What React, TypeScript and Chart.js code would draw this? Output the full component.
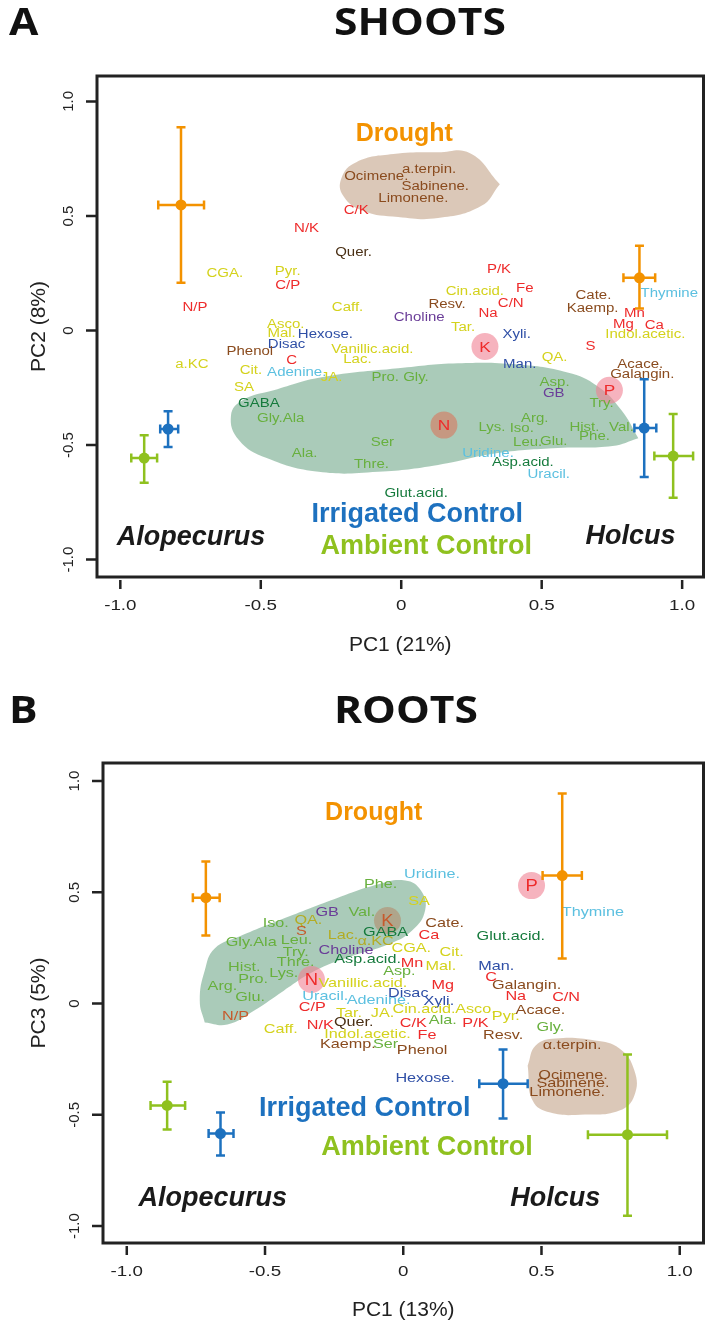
import React, { useEffect, useRef } from 'react';
import { Chart, registerables } from 'chart.js';

Chart.register(...registerables);

// ---------------- data ----------------
const AXIS_TICKS = [-1, -0.5, 0, 0.5, 1];
const AXIS_TICK_LABELS = ['-1.0', '-0.5', '0', '0.5', '1.0'];

type Lbl = [string, number, number, string];
type Ctr = [string, number, number, number, number, number, number];
type Pt = [number, number];

// [name, PC1, PC2, colour group]
const SHOOTS_METABOLITES: Lbl[] = [
  ['a.terpin.', 0.099, 0.704, 'brown'],
  ['Ocimene.', -0.089, 0.67, 'brown'],
  ['Sabinene.', 0.121, 0.63, 'brown'],
  ['Limonene.', 0.043, 0.574, 'brown'],
  ['C/K', -0.16, 0.522, 'red'],
  ['N/K', -0.337, 0.443, 'red'],
  ['Quer.', -0.17, 0.339, 'dark'],
  ['CGA.', -0.628, 0.248, 'yellow'],
  ['Pyr.', -0.404, 0.257, 'yellow'],
  ['C/P', -0.404, 0.196, 'red'],
  ['N/P', -0.734, 0.1, 'red'],
  ['Caff.', -0.191, 0.1, 'yellow'],
  ['P/K', 0.348, 0.265, 'red'],
  ['Fe', 0.44, 0.183, 'red'],
  ['Cin.acid.', 0.262, 0.17, 'yellow'],
  ['C/N', 0.39, 0.117, 'red'],
  ['Resv.', 0.163, 0.113, 'brown'],
  ['Na', 0.309, 0.074, 'red'],
  ['Choline', 0.064, 0.057, 'purple'],
  ['Tar.', 0.22, 0.013, 'yellow'],
  ['Cate.', 0.684, 0.152, 'brown'],
  ['Kaemp.', 0.681, 0.096, 'brown'],
  ['Thymine', 0.954, 0.161, 'cyan'],
  ['Mn', 0.83, 0.074, 'red'],
  ['Mg', 0.791, 0.026, 'red'],
  ['Ca', 0.901, 0.022, 'red'],
  ['Indol.acetic.', 0.869, -0.017, 'yellow'],
  ['Xyli.', 0.411, -0.017, 'blue'],
  ['Asco.', -0.411, 0.026, 'yellow'],
  ['Mal.', -0.426, -0.013, 'yellow'],
  ['Hexose.', -0.27, -0.017, 'blue'],
  ['Disac', -0.408, -0.061, 'blue'],
  ['Phenol', -0.539, -0.091, 'brown'],
  ['C', -0.39, -0.13, 'red'],
  ['Vanillic.acid.', -0.103, -0.083, 'yellow'],
  ['Lac.', -0.156, -0.126, 'yellow'],
  ['a.KC', -0.745, -0.148, 'yellow'],
  ['Cit.', -0.535, -0.174, 'yellow'],
  ['Adenine.', -0.372, -0.183, 'cyan'],
  ['JA.', -0.248, -0.204, 'yellow'],
  ['Pro. Gly.', -0.004, -0.204, 'green'],
  ['SA', -0.56, -0.248, 'yellow'],
  ['GABA', -0.507, -0.317, 'darkgreen'],
  ['Gly.Ala', -0.429, -0.383, 'green'],
  ['Lys.', 0.323, -0.422, 'green'],
  ['S', 0.674, -0.07, 'red'],
  ['Man.', 0.422, -0.148, 'blue'],
  ['QA.', 0.546, -0.117, 'yellow'],
  ['Acace.', 0.851, -0.148, 'brown'],
  ['Galangin.', 0.858, -0.191, 'brown'],
  ['Asp.', 0.546, -0.226, 'green'],
  ['GB', 0.543, -0.274, 'purple'],
  ['Try.', 0.713, -0.317, 'green'],
  ['Arg.', 0.475, -0.383, 'green'],
  ['Iso.', 0.429, -0.426, 'green'],
  ['Hist.', 0.652, -0.422, 'green'],
  ['Val.', 0.784, -0.422, 'green'],
  ['Leu.', 0.45, -0.487, 'green'],
  ['Glu.', 0.543, -0.483, 'green'],
  ['Phe.', 0.688, -0.465, 'green'],
  ['Uridine.', 0.309, -0.539, 'cyan'],
  ['Asp.acid.', 0.433, -0.578, 'darkgreen'],
  ['Uracil.', 0.525, -0.63, 'cyan'],
  ['Glut.acid.', 0.053, -0.713, 'darkgreen'],
  ['Ala.', -0.344, -0.535, 'green'],
  ['Ser', -0.067, -0.487, 'green'],
  ['Thre.', -0.106, -0.587, 'green'],
];

const SHOOTS_NUTRIENT_CIRCLES: Lbl[] = [
  ['K', 0.298, -0.07, 'pink'],
  ['N', 0.152, -0.413, 'brown'],
  ['P', 0.741, -0.261, 'pink'],
];

// [treatment, PC1, PC2, PC1 low, PC1 high, PC2 low, PC2 high]
const SHOOTS_CENTROIDS: Ctr[] = [
  ['drought', -0.784, 0.548, -0.865, -0.702, 0.209, 0.887],
  ['drought', 0.848, 0.23, 0.791, 0.904, 0.096, 0.37],
  ['irrigated', -0.83, -0.43, -0.858, -0.794, -0.509, -0.352],
  ['irrigated', 0.865, -0.426, 0.83, 0.908, -0.639, -0.213],
  ['ambient', -0.915, -0.557, -0.961, -0.869, -0.665, -0.457],
  ['ambient', 0.968, -0.548, 0.901, 1.039, -0.73, -0.365],
];

const SHOOTS_AMINO_AREA: Pt[] = [
  [0.844, -0.47], [0.752, -0.504], [0.557, -0.513], [0.344, -0.535], [0.131, -0.587],
  [-0.082, -0.617], [-0.294, -0.617], [-0.479, -0.557], [-0.578, -0.478], [-0.606, -0.37],
  [-0.564, -0.304], [-0.454, -0.261], [-0.284, -0.204], [-0.011, -0.165], [0.202, -0.143],
  [0.415, -0.148], [0.592, -0.183], [0.699, -0.243], [0.784, -0.348], [0.844, -0.47],
];

const SHOOTS_TERPENE_AREA: Pt[] = [
  [0.351, 0.639], [0.284, 0.543], [0.131, 0.491], [-0.011, 0.496], [-0.135, 0.522],
  [-0.206, 0.587], [-0.213, 0.665], [-0.16, 0.735], [-0.028, 0.77], [0.131, 0.778],
  [0.245, 0.774], [0.351, 0.639],
];

const SHOOTS_ANNOTATIONS: Lbl[] = [
  ['Drought', 0.011, 0.857, 'drought'],
  ['Irrigated Control', 0.057, -0.804, 'irrigated'],
  ['Ambient Control', 0.089, -0.943, 'ambient'],
  ['Alopecurus', -0.748, -0.904, 'species'],
  ['Holcus', 0.816, -0.9, 'species'],
];

// [name, PC1, PC3, colour group]
const ROOTS_METABOLITES: Lbl[] = [
  ['Uridine.', 0.104, 0.58, 'cyan'],
  ['Phe.', -0.082, 0.535, 'green'],
  ['SA', 0.057, 0.458, 'yellow'],
  ['GB', -0.275, 0.409, 'purple'],
  ['Val.', -0.15, 0.409, 'green'],
  ['Iso.', -0.461, 0.36, 'green'],
  ['QA.', -0.343, 0.373, 'olive'],
  ['S', -0.368, 0.324, 'rust'],
  ['Gly.Ala', -0.55, 0.274, 'green'],
  ['Leu.', -0.386, 0.283, 'green'],
  ['Lac.', -0.218, 0.306, 'olive'],
  ['GABA', -0.064, 0.319, 'darkgreen'],
  ['α.KC', -0.1, 0.279, 'olive'],
  ['Cate.', 0.15, 0.36, 'brown'],
  ['Ca', 0.093, 0.306, 'red'],
  ['Glut.acid.', 0.389, 0.301, 'darkgreen'],
  ['Try.', -0.389, 0.229, 'green'],
  ['Choline', -0.207, 0.238, 'purple'],
  ['CGA.', 0.029, 0.247, 'yellow'],
  ['Cit.', 0.175, 0.229, 'yellow'],
  ['Hist.', -0.575, 0.162, 'green'],
  ['Thre.', -0.389, 0.184, 'green'],
  ['Asp.acid.', -0.129, 0.198, 'darkgreen'],
  ['Mn', 0.032, 0.18, 'red'],
  ['Mal.', 0.136, 0.166, 'yellow'],
  ['Man.', 0.336, 0.166, 'blue'],
  ['Lys.', -0.432, 0.135, 'green'],
  ['Asp.', -0.014, 0.144, 'green'],
  ['Pro.', -0.543, 0.108, 'green'],
  ['Arg.', -0.654, 0.076, 'green'],
  ['Glu.', -0.554, 0.027, 'green'],
  ['Vanillic.acid.', -0.146, 0.09, 'yellow'],
  ['C', 0.318, 0.117, 'red'],
  ['Galangin.', 0.446, 0.081, 'brown'],
  ['Mg', 0.143, 0.081, 'red'],
  ['Disac', 0.018, 0.045, 'blue'],
  ['Na', 0.407, 0.031, 'red'],
  ['C/N', 0.589, 0.027, 'red'],
  ['Uracil.', -0.282, 0.031, 'cyan'],
  ['Adenine.', -0.089, 0.013, 'cyan'],
  ['Xyli.', 0.129, 0.009, 'blue'],
  ['C/P', -0.329, -0.018, 'red'],
  ['Tar.', -0.196, -0.045, 'yellow'],
  ['JA.', -0.075, -0.045, 'yellow'],
  ['Cin.acid.', 0.075, -0.027, 'yellow'],
  ['Asco.', 0.261, -0.027, 'yellow'],
  ['Acace.', 0.496, -0.031, 'brown'],
  ['Pyr.', 0.371, -0.058, 'yellow'],
  ['N/P', -0.607, -0.058, 'rust'],
  ['Caff.', -0.443, -0.117, 'yellow'],
  ['N/K', -0.3, -0.099, 'red'],
  ['Quer.', -0.179, -0.085, 'dark'],
  ['C/K', 0.036, -0.09, 'red'],
  ['Ala.', 0.143, -0.076, 'green'],
  ['P/K', 0.261, -0.09, 'red'],
  ['Gly.', 0.532, -0.108, 'green'],
  ['Indol.acetic.', -0.129, -0.139, 'yellow'],
  ['Fe', 0.086, -0.144, 'red'],
  ['Resv.', 0.361, -0.144, 'brown'],
  ['Kaemp.', -0.2, -0.184, 'brown'],
  ['Ser', -0.064, -0.184, 'green'],
  ['Phenol', 0.068, -0.211, 'brown'],
  ['α.terpin.', 0.611, -0.189, 'brown'],
  ['Ocimene.', 0.614, -0.324, 'brown'],
  ['Sabinene.', 0.614, -0.36, 'brown'],
  ['Limonene.', 0.593, -0.4, 'brown'],
  ['Hexose.', 0.079, -0.337, 'blue'],
  ['Thymine', 0.686, 0.409, 'cyan'],
];

const ROOTS_NUTRIENT_CIRCLES: Lbl[] = [
  ['K', -0.057, 0.373, 'tan'],
  ['N', -0.332, 0.108, 'pink'],
  ['P', 0.464, 0.53, 'pink'],
];

const ROOTS_CENTROIDS: Ctr[] = [
  ['drought', -0.714, 0.476, -0.761, -0.664, 0.306, 0.638],
  ['drought', 0.575, 0.575, 0.504, 0.646, 0.202, 0.944],
  ['irrigated', -0.661, -0.584, -0.704, -0.614, -0.683, -0.49],
  ['irrigated', 0.361, -0.36, 0.275, 0.45, -0.517, -0.207],
  ['ambient', -0.854, -0.458, -0.914, -0.789, -0.566, -0.351],
  ['ambient', 0.811, -0.589, 0.668, 0.954, -0.953, -0.229],
];

const ROOTS_AMINO_AREA: Pt[] = [
  [-0.718, -0.085], [-0.736, 0.013], [-0.718, 0.148], [-0.682, 0.247], [-0.593, 0.301],
  [-0.414, 0.391], [-0.236, 0.476], [-0.093, 0.535], [0.007, 0.553], [0.064, 0.508],
  [0.079, 0.418], [0.032, 0.328], [-0.046, 0.27], [-0.2, 0.207], [-0.318, 0.148],
  [-0.432, 0.058], [-0.539, -0.031], [-0.636, -0.094], [-0.718, -0.085],
];

const ROOTS_TERPENE_AREA: Pt[] = [
  [0.45, -0.279], [0.479, -0.189], [0.55, -0.157], [0.693, -0.166], [0.782, -0.202],
  [0.836, -0.301], [0.836, -0.413], [0.782, -0.481], [0.657, -0.499], [0.532, -0.49],
  [0.468, -0.436], [0.45, -0.279],
];

const ROOTS_ANNOTATIONS: Lbl[] = [
  ['Drought', -0.107, 0.854, 'drought'],
  ['Irrigated Control', -0.139, -0.472, 'irrigated'],
  ['Ambient Control', 0.086, -0.647, 'ambient'],
  ['Alopecurus', -0.689, -0.876, 'species'],
  ['Holcus', 0.55, -0.876, 'species'],
];

// ---------------- styles ----------------
const SANS = "'Liberation Sans', Arial, Helvetica, sans-serif";
const TITLE_FONT = "'Open Sans', 'Noto Sans', sans-serif";
const INK = '#222222';

const TEXT_COLORS: Record<string, string> = {
  red: '#ee2b2b',
  yellow: '#d4d21c',
  blue: '#2f4fa6',
  cyan: '#5cc0e0',
  brown: '#8a4b1e',
  dark: '#4a3015',
  purple: '#6a3d98',
  green: '#68b03e',
  darkgreen: '#157a3c',
  olive: '#b3ac24',
  rust: '#c65a2c',
};

const TREATMENT_COLORS: Record<string, string> = {
  drought: '#f39200',
  irrigated: '#1d71bf',
  ambient: '#8fc11f',
  species: '#1a1a1a',
};

const CIRCLE_COLORS: Record<string, string> = {
  pink: 'rgba(240,128,146,0.6)',
  brown: 'rgba(205,140,115,0.8)',
  tan: 'rgba(178,140,108,0.6)',
};

const AMINO_FILL = 'rgba(100,160,128,0.55)';
const TERPENE_FILL = 'rgba(190,155,125,0.55)';

type PanelSpec = {
  top: number;
  height: number;
  area: { left: number; right: number; top: number; bottom: number };
  xRange: [number, number];
  yRange: [number, number];
  letter: string;
  title: string;
  titleBaseline: number;
  xTitle: string;
  yTitle: string;
  labelSize: number;
  labels: Lbl[];
  circles: Lbl[];
  centroids: Ctr[];
  amino: Pt[];
  terpene: Pt[];
  annotations: Lbl[];
};

const PANELS: PanelSpec[] = [
  {
    top: 0,
    height: 665,
    area: { left: 97, right: 708, top: 76, bottom: 577 },
    xRange: [-1.083, 1.076],
    yRange: [-1.076, 1.111],
    letter: 'A',
    title: 'SHOOTS',
    titleBaseline: 35,
    xTitle: 'PC1 (21%)',
    yTitle: 'PC2 (8%)',
    labelSize: 12.5,
    labels: SHOOTS_METABOLITES,
    circles: SHOOTS_NUTRIENT_CIRCLES,
    centroids: SHOOTS_CENTROIDS,
    amino: SHOOTS_AMINO_AREA,
    terpene: SHOOTS_TERPENE_AREA,
    annotations: SHOOTS_ANNOTATIONS,
  },
  {
    top: 665,
    height: 662,
    area: { left: 103, right: 710, top: 98, bottom: 578 },
    xRange: [-1.086, 1.086],
    yRange: [-1.076, 1.081],
    letter: 'B',
    title: 'ROOTS',
    titleBaseline: 58,
    xTitle: 'PC1 (13%)',
    yTitle: 'PC3 (5%)',
    labelSize: 13.5,
    labels: ROOTS_METABOLITES,
    circles: ROOTS_NUTRIENT_CIRCLES,
    centroids: ROOTS_CENTROIDS,
    amino: ROOTS_AMINO_AREA,
    terpene: ROOTS_TERPENE_AREA,
    annotations: ROOTS_ANNOTATIONS,
  },
];

const WIDTH = 717;

function stretchText(ctx: CanvasRenderingContext2D, text: string, x: number, y: number, sx: number) {
  ctx.save();
  ctx.translate(x, y);
  ctx.scale(sx, 1);
  ctx.fillText(text, 0, 0);
  ctx.restore();
}

function makePlugin(spec: PanelSpec) {
  return {
    id: 'panelDecor',
    afterDatasetsDraw(chart: any) {
      const ctx: CanvasRenderingContext2D = chart.ctx;
      const xs = chart.scales.x;
      const ys = chart.scales.y;
      ctx.save();
      ctx.textAlign = 'center';
      ctx.textBaseline = 'middle';

      // metabolite names at their scatter positions
      ctx.font = `${spec.labelSize}px ${SANS}`;
      const labMeta = chart.getDatasetMeta(1);
      labMeta.data.forEach((el: any, i: number) => {
        const l = spec.labels[i];
        ctx.fillStyle = TEXT_COLORS[l[3]];
        stretchText(ctx, l[0], el.x, el.y, 1.2);
      });

      // nutrient circle letters
      ctx.font = `${spec.labelSize + 2.5}px ${SANS}`;
      const cMeta = chart.getDatasetMeta(2);
      cMeta.data.forEach((el: any, i: number) => {
        const c = spec.circles[i];
        ctx.fillStyle = c[3] === 'tan' ? TEXT_COLORS.rust : TEXT_COLORS.red;
        stretchText(ctx, c[0], el.x, el.y + 1, 1.15);
      });

      // treatment / species annotations
      spec.annotations.forEach(([t, x, y, g]) => {
        ctx.fillStyle = TREATMENT_COLORS[g];
        ctx.font =
          g === 'drought'
            ? `bold 25px ${SANS}`
            : g === 'species'
            ? `italic bold 27px ${SANS}`
            : `bold 27px ${SANS}`;
        ctx.fillText(t, xs.getPixelForValue(x), ys.getPixelForValue(y));
      });

      // error bars on the centroids
      ctx.lineWidth = 2.5;
      ctx.lineCap = 'butt';
      const cap = 4.5;
      spec.centroids.forEach(([g, x, y, x0, x1, y0, y1]) => {
        const px = xs.getPixelForValue(x);
        const py = ys.getPixelForValue(y);
        const X0 = xs.getPixelForValue(x0);
        const X1 = xs.getPixelForValue(x1);
        const Y0 = ys.getPixelForValue(y0);
        const Y1 = ys.getPixelForValue(y1);
        ctx.strokeStyle = TREATMENT_COLORS[g];
        ctx.beginPath();
        ctx.moveTo(X0, py);
        ctx.lineTo(X1, py);
        ctx.moveTo(px, Y0);
        ctx.lineTo(px, Y1);
        ctx.moveTo(X0, py - cap);
        ctx.lineTo(X0, py + cap);
        ctx.moveTo(X1, py - cap);
        ctx.lineTo(X1, py + cap);
        ctx.moveTo(px - cap, Y0);
        ctx.lineTo(px + cap, Y0);
        ctx.moveTo(px - cap, Y1);
        ctx.lineTo(px + cap, Y1);
        ctx.stroke();
      });
      ctx.restore();
    },
    afterDraw(chart: any) {
      const ctx: CanvasRenderingContext2D = chart.ctx;
      const { left, right, top, bottom } = chart.chartArea;
      const xs = chart.scales.x;
      const ys = chart.scales.y;
      ctx.save();
      // frame
      ctx.strokeStyle = INK;
      ctx.lineWidth = 3;
      ctx.strokeRect(left, top, right - left, bottom - top);

      // tick marks
      ctx.lineWidth = 2.5;
      ctx.beginPath();
      xs.ticks.forEach((t: any) => {
        const px = xs.getPixelForValue(t.value);
        ctx.moveTo(px, bottom + 3);
        ctx.lineTo(px, bottom + 12);
      });
      ys.ticks.forEach((t: any) => {
        const py = ys.getPixelForValue(t.value);
        ctx.moveTo(left - 11, py);
        ctx.lineTo(left, py);
      });
      ctx.stroke();

      // tick labels
      ctx.fillStyle = INK;
      ctx.font = `15px ${SANS}`;
      ctx.textAlign = 'center';
      ctx.textBaseline = 'middle';
      xs.ticks.forEach((t: any) => {
        const lab = AXIS_TICK_LABELS[AXIS_TICKS.indexOf(t.value)];
        stretchText(ctx, lab, xs.getPixelForValue(t.value), bottom + 29, 1.25);
      });
      ys.ticks.forEach((t: any) => {
        const lab = AXIS_TICK_LABELS[AXIS_TICKS.indexOf(t.value)];
        ctx.save();
        ctx.translate(left - 28, ys.getPixelForValue(t.value));
        ctx.rotate(-Math.PI / 2);
        ctx.fillText(lab, 0, 0);
        ctx.restore();
      });

      // panel letter and title
      ctx.fillStyle = '#111';
      ctx.font = `bold 38px ${TITLE_FONT}`;
      ctx.textAlign = 'left';
      ctx.textBaseline = 'alphabetic';
      stretchText(ctx, spec.letter, 9, spec.titleBaseline, 1.12);
      stretchText(ctx, spec.title, 334, spec.titleBaseline, 1.12);
      ctx.restore();
    },
  };
}

function buildConfig(spec: PanelSpec): any {
  const { area, height } = spec;
  return {
    type: 'scatter',
    data: {
      datasets: [
        {
          label: 'treatment centroids',
          data: spec.centroids.map((c) => ({ x: c[1], y: c[2] })),
          pointRadius: 5.5,
          pointBackgroundColor: spec.centroids.map((c) => TREATMENT_COLORS[c[0]]),
          pointBorderWidth: 0,
          order: 0,
        },
        {
          label: 'metabolites',
          data: spec.labels.map((l) => ({ x: l[1], y: l[2] })),
          pointRadius: 0,
          order: 1,
        },
        {
          label: 'nutrients',
          data: spec.circles.map((c) => ({ x: c[1], y: c[2] })),
          pointRadius: 13.5,
          pointBackgroundColor: spec.circles.map((c) => CIRCLE_COLORS[c[3]]),
          pointBorderWidth: 0,
          order: 2,
        },
        {
          label: 'amino acid group',
          data: spec.amino.map(([x, y]) => ({ x, y })),
          showLine: true,
          fill: 'shape',
          backgroundColor: AMINO_FILL,
          borderColor: 'rgba(0,0,0,0)',
          borderWidth: 0,
          pointRadius: 0,
          tension: 0.45,
          order: 3,
        },
        {
          label: 'terpene group',
          data: spec.terpene.map(([x, y]) => ({ x, y })),
          showLine: true,
          fill: 'shape',
          backgroundColor: TERPENE_FILL,
          borderColor: 'rgba(0,0,0,0)',
          borderWidth: 0,
          pointRadius: 0,
          tension: 0.45,
          order: 4,
        },
      ],
    },
    options: {
      responsive: false,
      maintainAspectRatio: false,
      animation: false,
      devicePixelRatio: 1,
      events: [],
      layout: {
        padding: { left: 0, right: WIDTH - area.right, top: area.top, bottom: 0 },
      },
      plugins: {
        legend: { display: false },
        tooltip: { enabled: false },
        title: { display: false },
      },
      scales: {
        x: {
          type: 'linear',
          min: spec.xRange[0],
          max: spec.xRange[1],
          afterBuildTicks: (s: any) => {
            s.ticks = AXIS_TICKS.map((v) => ({ value: v }));
          },
          afterFit: (s: any) => {
            s.height = height - area.bottom;
          },
          grid: { display: false },
          border: { display: false },
          ticks: { display: false },
          title: {
            display: true,
            text: spec.xTitle,
            color: INK,
            font: { family: SANS, size: 21 },
            padding: { top: 0, bottom: height - 12.6 - 645 },
          },
        },
        y: {
          type: 'linear',
          min: spec.yRange[0],
          max: spec.yRange[1],
          afterBuildTicks: (s: any) => {
            s.ticks = AXIS_TICKS.map((v) => ({ value: v }));
          },
          afterFit: (s: any) => {
            s.width = area.left;
          },
          grid: { display: false },
          border: { display: false },
          ticks: { display: false },
          title: {
            display: true,
            text: spec.yTitle,
            color: INK,
            font: { family: SANS, size: 21 },
            padding: { top: 27, bottom: 0 },
          },
        },
      },
    },
    plugins: [makePlugin(spec)],
  };
}

function Panel({ spec }: { spec: PanelSpec }) {
  const ref = useRef<HTMLCanvasElement>(null);
  useEffect(() => {
    const chart = new Chart(ref.current as HTMLCanvasElement, buildConfig(spec));
    return () => chart.destroy();
  }, [spec]);
  return (
    <canvas
      ref={ref}
      width={WIDTH}
      height={spec.height}
      style={{ position: 'absolute', left: 0, top: spec.top, width: WIDTH, height: spec.height }}
    />
  );
}

export default function App() {
  return (
    <div
      style={{
        position: 'absolute',
        left: 0,
        top: 0,
        width: WIDTH,
        height: 1327,
        background: '#ffffff',
        overflow: 'hidden',
      }}
    >
      {PANELS.map((p) => (
        <Panel key={p.letter} spec={p} />
      ))}
    </div>
  );
}
